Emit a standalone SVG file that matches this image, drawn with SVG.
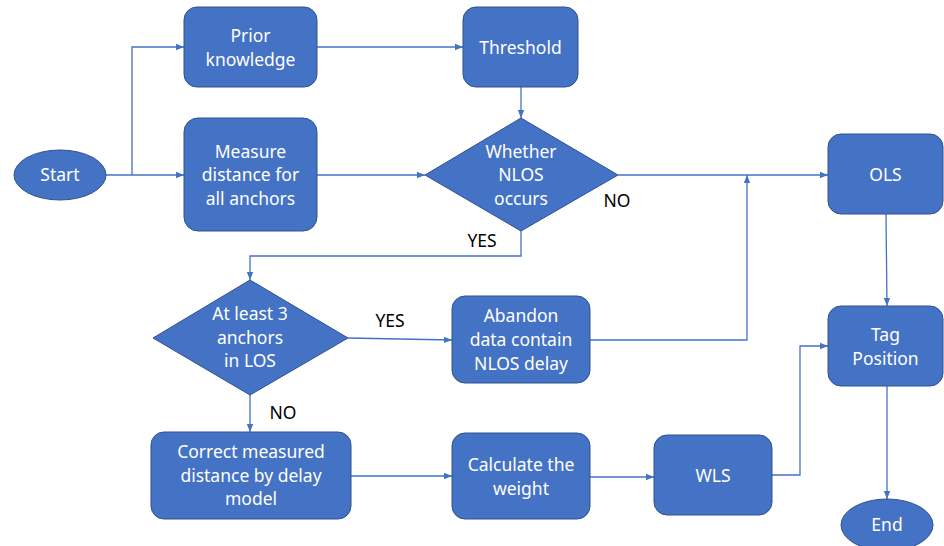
<svg xmlns="http://www.w3.org/2000/svg" width="944" height="546" viewBox="0 0 944 546">
<defs>
<marker id="arr" viewBox="0 0 10 10" refX="10" refY="5" markerWidth="8" markerHeight="8" markerUnits="userSpaceOnUse" orient="auto">
<path d="M0,1 L10,5 L0,9 z" fill="#4472C4"/>
</marker>
<style>
.n{fill:#4472C4;stroke:#2F528F;stroke-width:1}
.t{fill:#fff;font-family:"Noto Sans","Open Sans",sans-serif;font-size:17.5px;text-anchor:middle}
.l{fill:#000;font-family:"Noto Sans","Open Sans",sans-serif;font-size:17.5px;text-anchor:middle}
.c{fill:none;stroke:#4472C4;stroke-width:1.3;marker-end:url(#arr)}
</style>
</defs>
<rect width="944" height="546" fill="#fff"/>
<g id="connectors">
<path class="c" d="M106,175 H184"/>
<path class="c" d="M132,175 V47 H184"/>
<path class="c" d="M317,47 H463"/>
<path class="c" d="M521,87 V118"/>
<path class="c" d="M317,175 H425"/>
<path class="c" d="M618,175 H828"/>
<path class="c" d="M521,231 V256 H250 V280"/>
<path class="c" d="M348,338 L452,340"/>
<path class="c" d="M590,340 H747 V175"/>
<path class="c" d="M250,395 V432"/>
<path class="c" d="M351,476 H452"/>
<path class="c" d="M590,477 H654"/>
<path class="c" d="M772,475 H800 V346 H828"/>
<path class="c" d="M886,214 L887,306"/>
<path class="c" d="M887,386 V499"/>
<text class="l" x="617" y="207">NO</text>
<text class="l" x="482" y="247">YES</text>
<text class="l" x="390" y="327">YES</text>
<text class="l" x="283" y="419">NO</text>
</g>
<g id="start"><ellipse class="n" cx="60" cy="175" rx="46" ry="25"/><text class="t" x="60" y="181">Start</text></g>
<g id="prior"><rect class="n" x="184" y="7" width="133" height="80" rx="13"/><text class="t" x="250.5" y="42">Prior</text><text class="t" x="250.5" y="66">knowledge</text></g>
<g id="measure"><rect class="n" x="184" y="118" width="133" height="113" rx="14"/><text class="t" x="250.5" y="158">Measure</text><text class="t" x="250.5" y="181">distance for</text><text class="t" x="250.5" y="205">all anchors</text></g>
<g id="threshold"><rect class="n" x="463" y="7" width="115" height="80" rx="13"/><text class="t" x="520.5" y="54">Threshold</text></g>
<g id="nlos"><polygon class="n" points="521,118 618,175 521,231 425,175"/><text class="t" x="521" y="158">Whether</text><text class="t" x="521" y="181">NLOS</text><text class="t" x="521" y="205">occurs</text></g>
<g id="ols"><rect class="n" x="828" y="134" width="115" height="80" rx="13"/><text class="t" x="885.5" y="181">OLS</text></g>
<g id="atleast"><polygon class="n" points="250,280 348,338 250,395 153,338"/><text class="t" x="250" y="320">At least 3</text><text class="t" x="250" y="344">anchors</text><text class="t" x="250" y="367">in LOS</text></g>
<g id="abandon"><rect class="n" x="452" y="296" width="138" height="87" rx="13"/><text class="t" x="521" y="322">Abandon</text><text class="t" x="521" y="346">data contain</text><text class="t" x="521" y="370">NLOS delay</text></g>
<g id="tag"><rect class="n" x="828" y="306" width="115" height="80" rx="13"/><text class="t" x="885.5" y="341">Tag</text><text class="t" x="885.5" y="365">Position</text></g>
<g id="correct"><rect class="n" x="151" y="432" width="200" height="87" rx="13"/><text class="t" x="251" y="458">Correct measured</text><text class="t" x="251" y="482">distance by delay</text><text class="t" x="251" y="505">model</text></g>
<g id="calculate"><rect class="n" x="452" y="433" width="138" height="86" rx="13"/><text class="t" x="521" y="471">Calculate the</text><text class="t" x="521" y="495">weight</text></g>
<g id="wls"><rect class="n" x="654" y="435" width="118" height="80" rx="13"/><text class="t" x="713" y="482">WLS</text></g>
<g id="end"><ellipse class="n" cx="887" cy="525" rx="46" ry="26"/><text class="t" x="887" y="531">End</text></g>
</svg>
